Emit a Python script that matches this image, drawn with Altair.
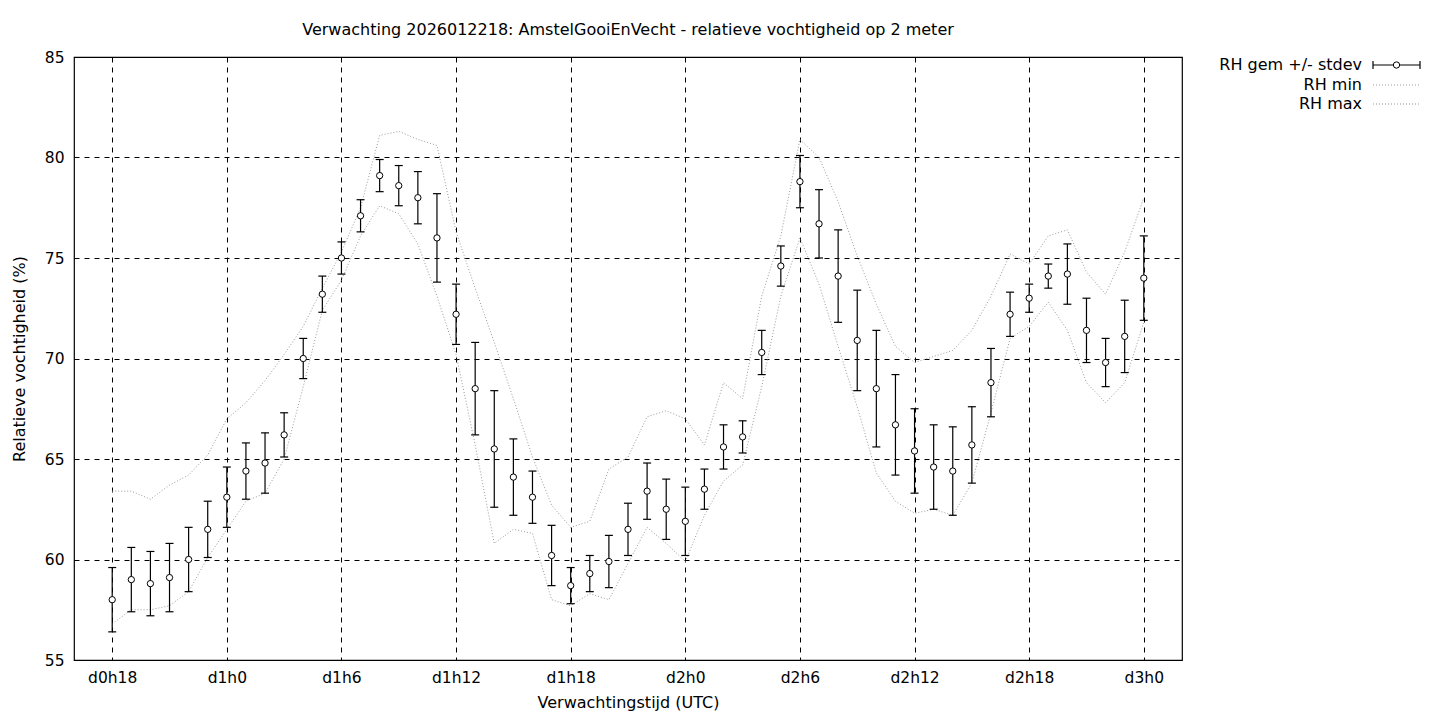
import altair as alt
import pandas as pd

# Forecast hour (hours after d0h0)
hours = [18, 19, 20, 21, 22, 23, 24, 25, 26, 27,
         28, 29, 30, 31, 32, 33, 34, 35, 36, 37,
         38, 39, 40, 41, 42, 43, 44, 45, 46, 47,
         48, 49, 50, 51, 52, 53, 54, 55, 56, 57,
         58, 59, 60, 61, 62, 63, 64, 65, 66, 67,
         68, 69, 70, 71, 72]

rh_mean = [58.0, 59.0, 58.8, 59.1, 60.0, 61.5, 63.1, 64.4, 64.8, 66.2,
           70.0, 73.2, 75.0, 77.1, 79.1, 78.6, 78.0, 76.0, 72.2, 68.5,
           65.5, 64.1, 63.1, 60.2, 58.7, 59.3, 59.9, 61.5, 63.4, 62.5,
           61.9, 63.5, 65.6, 66.1, 70.3, 74.6, 78.8, 76.7, 74.1, 70.9,
           68.5, 66.7, 65.4, 64.6, 64.4, 65.7, 68.8, 72.2, 73.0, 74.1,
           74.2, 71.4, 69.8, 71.1, 74.0]

rh_stdev = [1.6, 1.6, 1.6, 1.7, 1.6, 1.4, 1.5, 1.4, 1.5, 1.1,
            1.0, 0.9, 0.8, 0.8, 0.8, 1.0, 1.3, 2.2, 1.5, 2.3,
            2.9, 1.9, 1.3, 1.5, 0.9, 0.9, 1.3, 1.3, 1.4, 1.5,
            1.7, 1.0, 1.1, 0.8, 1.1, 1.0, 1.3, 1.7, 2.3, 2.5,
            2.9, 2.5, 2.1, 2.1, 2.2, 1.9, 1.7, 1.1, 0.7, 0.6,
            1.5, 1.6, 1.2, 1.8, 2.1]

rh_min = [56.8, 57.5, 57.5, 57.7, 58.4, 60.1, 61.5, 62.9, 63.3, 65.0,
          68.6, 72.4, 73.9, 76.1, 77.6, 77.2, 75.7, 73.1, 70.2, 65.7,
          60.8, 61.5, 61.3, 58.0, 57.7, 58.3, 58.0, 59.8, 61.6, 60.8,
          59.9, 62.2, 63.9, 64.7, 68.6, 73.1, 76.0, 73.7, 70.6, 67.6,
          64.3, 62.9, 62.3, 62.5, 62.2, 63.8, 67.3, 71.0, 71.6, 72.8,
          71.4, 68.8, 67.8, 68.8, 71.8]

rh_max = [63.4, 63.4, 63.0, 63.7, 64.2, 65.2, 67.0, 67.8, 68.9, 70.2,
          71.6, 73.5, 75.3, 77.5, 81.1, 81.3, 80.9, 80.6, 76.3, 73.5,
          70.8, 68.0, 65.1, 62.7, 61.6, 61.9, 64.5, 65.1, 67.1, 67.4,
          67.0, 65.7, 68.8, 68.0, 73.1, 76.1, 80.9, 80.0, 77.8, 75.1,
          72.7, 70.6, 69.8, 70.1, 70.4, 71.4, 73.1, 75.2, 74.7, 76.1,
          76.4, 74.3, 73.2, 75.3, 78.0]

x_ticks = [18, 24, 30, 36, 42, 48, 54, 60, 66, 72]
y_ticks = [55, 60, 65, 70, 75, 80, 85]
legend_labels = ["RH gem +/- stdev", "RH min", "RH max"]

title_text = "Verwachting 2026012218: AmstelGooiEnVecht - relatieve vochtigheid op 2 meter"

df = pd.DataFrame({"h": hours, "mean": rh_mean, "sd": rh_stdev,
                   "mn": rh_min, "mx": rh_max})
df["lo"] = df["mean"] - df["sd"]
df["hi"] = df["mean"] + df["sd"]

FONT = "DejaVu Sans"
FS = 16      # titles and key
FSL = 15.5   # tick labels
W, H = 1108, 603

xscale = alt.Scale(domain=[16, 74], nice=False, zero=False)
yscale = alt.Scale(domain=[55, 85], nice=False, zero=False)

x_axis = alt.Axis(values=x_ticks, grid=True, gridColor="black", gridDash=[5, 5],
                  gridOpacity=1, gridWidth=1, tickSize=0, domain=False,
                  labelExpr="'d' + floor(datum.value / 24) + 'h' + (datum.value % 24)",
                  labelFont=FONT, labelFontSize=FSL, labelColor="black",
                  labelPadding=10, labelFlush=False,
                  title="Verwachtingstijd (UTC)", titleFont=FONT, titleFontSize=FS,
                  titleFontWeight="normal", titleColor="black", titlePadding=9)
y_axis = alt.Axis(values=y_ticks, grid=True, gridColor="black", gridDash=[5, 5],
                  gridOpacity=1, gridWidth=1, tickSize=0, domain=False,
                  labelFont=FONT, labelFontSize=FSL, labelColor="black",
                  labelPadding=10, labelFlush=False,
                  title="Relatieve vochtigheid (%)", titleFont=FONT, titleFontSize=FS,
                  titleFontWeight="normal", titleColor="black", titlePadding=17)

base = alt.Chart(df)
X = alt.X("h:Q", scale=xscale, axis=x_axis)

dotted = dict(color="#9a9a9a", strokeDash=[1, 2], strokeWidth=1)
line_min = base.mark_line(**dotted).encode(x=X, y=alt.Y("mn:Q", scale=yscale, axis=y_axis))
line_max = base.mark_line(**dotted).encode(x=X, y=alt.Y("mx:Q", scale=yscale))

err = base.mark_rule(color="black", strokeWidth=1.2).encode(
    x=X, y=alt.Y("lo:Q", scale=yscale), y2="hi:Q")
cap_lo = base.mark_tick(orient="horizontal", color="black", size=8, thickness=1.2,
                        opacity=1).encode(x=X, y=alt.Y("lo:Q", scale=yscale))
cap_hi = base.mark_tick(orient="horizontal", color="black", size=8, thickness=1.2,
                        opacity=1).encode(x=X, y=alt.Y("hi:Q", scale=yscale))
pts = base.mark_point(shape="circle", filled=False, fill="white", fillOpacity=1,
                      stroke="black", strokeWidth=1, size=40, opacity=1).encode(
    x=X, y=alt.Y("mean:Q", scale=yscale))

# Gnuplot-style key (labels right-aligned, samples to the right)
lx, sx0, sx1 = 1288, 1299, 1346
ly = [8, 28, 47]
key = []
for lab, yy in zip(legend_labels, ly):
    key.append(alt.Chart(pd.DataFrame({"t": [lab]})).mark_text(
        align="right", baseline="middle", font=FONT, fontSize=FS, color="black").encode(
        x=alt.value(lx), y=alt.value(yy), text="t:N"))
key.append(alt.Chart(pd.DataFrame({"t": [0]})).mark_rule(color="black", strokeWidth=1.2).encode(
    x=alt.value(sx0), x2=alt.value(sx1), y=alt.value(ly[0])))
for xx in (sx0, sx1):
    key.append(alt.Chart(pd.DataFrame({"t": [0]})).mark_rule(color="black", strokeWidth=1.2).encode(
        x=alt.value(xx), y=alt.value(ly[0] - 4), y2=alt.value(ly[0] + 4)))
key.append(alt.Chart(pd.DataFrame({"t": [0]})).mark_point(
    shape="circle", fill="white", fillOpacity=1, stroke="black", strokeWidth=1, size=40,
    opacity=1).encode(x=alt.value((sx0 + sx1) / 2), y=alt.value(ly[0])))
for yy in ly[1:]:
    key.append(alt.Chart(pd.DataFrame({"t": [0]})).mark_rule(**dotted).encode(
        x=alt.value(sx0), x2=alt.value(sx1), y=alt.value(yy)))

chart = alt.layer(line_min, line_max, err, cap_lo, cap_hi, pts, *key).properties(
    width=W, height=H,
    background="white",
    title=alt.TitleParams(title_text, font=FONT, fontSize=FS, fontWeight="normal",
                          color="black", anchor="middle", offset=12),
    autosize=alt.AutoSizeParams(type="none"),
    padding={"left": 66, "top": 49, "right": 250, "bottom": 60},
).configure_view(stroke="black", strokeWidth=1.2)

chart.save("out.html", embed_options={"renderer": "svg", "actions": False})
